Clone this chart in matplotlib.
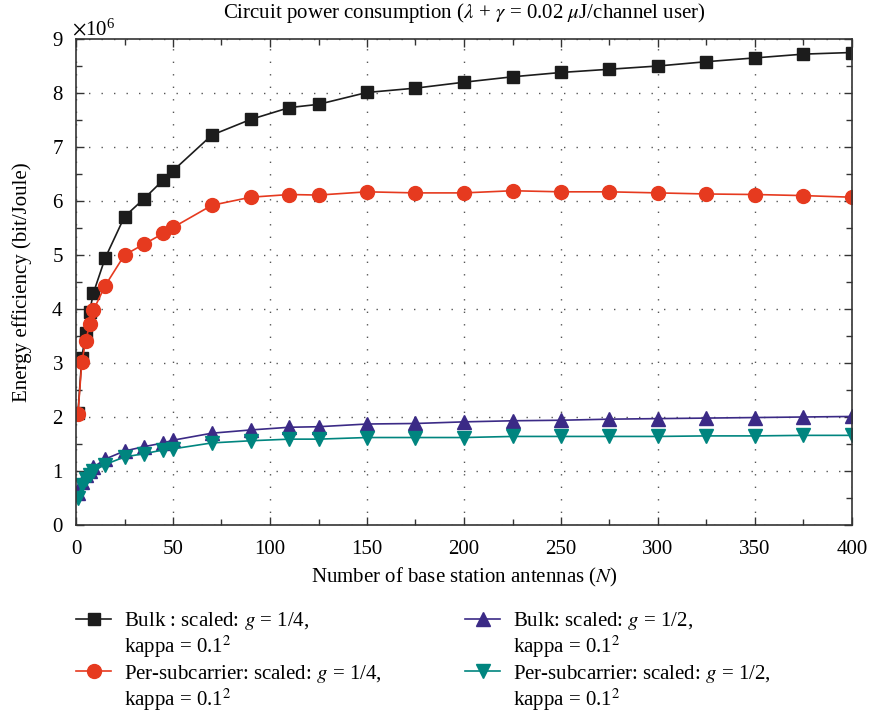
import matplotlib
matplotlib.use('Agg')
import matplotlib.pyplot as plt
from matplotlib.lines import Line2D
from matplotlib.ticker import ScalarFormatter, MultipleLocator
import numpy as np

plt.rcParams['font.family'] = 'serif'
plt.rcParams['font.serif'] = ['Liberation Serif', 'DejaVu Serif']
plt.rcParams['mathtext.fontset'] = 'stix'
plt.rcParams['font.size'] = 15

# number of antennas
N = [1, 3, 5, 7, 9, 15, 25, 35, 45, 50, 70, 90, 110, 125, 150, 175, 200,
     225, 250, 275, 300, 325, 350, 375, 400]

# energy efficiency in units of 1e6 bit/Joule
bulk_q = [2.07, 3.10, 3.55, 3.95, 4.30, 4.94, 5.71, 6.04, 6.39, 6.56, 7.22,
          7.51, 7.73, 7.79, 8.01, 8.09, 8.20, 8.30, 8.38, 8.44, 8.50, 8.58,
          8.65, 8.72, 8.75]
per_q = [2.05, 3.02, 3.40, 3.72, 3.98, 4.43, 5.00, 5.20, 5.40, 5.51, 5.92,
         6.07, 6.12, 6.11, 6.17, 6.15, 6.15, 6.19, 6.17, 6.17, 6.15, 6.13,
         6.12, 6.10, 6.07]
bulk_h = [0.60, 0.80, 0.92, 1.00, 1.07, 1.22, 1.37, 1.45, 1.52, 1.57, 1.70,
          1.76, 1.81, 1.82, 1.87, 1.88, 1.91, 1.93, 1.94, 1.96, 1.97, 1.98,
          1.99, 2.00, 2.01]
per_h = [0.50, 0.75, 0.85, 0.93, 1.00, 1.12, 1.26, 1.32, 1.39, 1.41, 1.52,
         1.56, 1.59, 1.59, 1.62, 1.62, 1.62, 1.64, 1.64, 1.64, 1.64, 1.65,
         1.65, 1.66, 1.66]

labels = ['Bulk : scaled: $g$ = 1/4,',
          'Per-subcarrier: scaled: $g$ = 1/4,',
          'Bulk: scaled: $g$ = 1/2,',
          'Per-subcarrier: scaled: $g$ = 1/2,']
second_line = 'kappa = 0.1$^2$'

fig = plt.figure(figsize=(8.69, 7.16), dpi=100)
ax = fig.add_axes([76/869, 1-525/716, (852-76)/869, (525-39)/716])

scale = 1e6
series = [(bulk_q, 's', 8, '#1c1c1c'),
          (per_q, 'o', 10, '#e63a1f'),
          (bulk_h, '^', 10, '#3b2a86'),
          (per_h, 'v', 10, '#00857f')]
lines = []
for (vals, mk, ms, c), lab in zip(series, labels):
    ln, = ax.plot(N, np.array(vals)*scale, color=c, marker=mk, ms=ms,
                  mec=c, mfc=c, lw=1.2, label=lab)
    lines.append(ln)

ax.set_xlim(0, 400)
ax.set_ylim(0, 9e6)
ax.xaxis.set_major_locator(MultipleLocator(50))
ax.xaxis.set_minor_locator(MultipleLocator(25))
ax.yaxis.set_major_locator(MultipleLocator(1e6))
ax.yaxis.set_minor_locator(MultipleLocator(0.5e6))
fmt = ScalarFormatter(useMathText=True)
fmt.set_powerlimits((0, 0))
ax.yaxis.set_major_formatter(fmt)
ax.yaxis.get_offset_text().set_fontsize(15)
ax.yaxis.get_offset_text().set_x(-0.005)

ax.tick_params(which='both', direction='in', top=True, right=True,
               color='#333333', labelsize=15)
ax.tick_params(which='major', length=6, width=1)
ax.tick_params(which='minor', length=4, width=1)
ax.tick_params(axis='x', which='major', pad=11)
ax.tick_params(axis='y', which='major', pad=9)
for s in ax.spines.values():
    s.set_color('#333333')
    s.set_linewidth(1.2)
ax.grid(True, which='major', color='#555555', linestyle=(0, (1, 8)), lw=1)

ax.set_xlabel('Number of base station antennas ($N$)', fontsize=15, labelpad=5)
ax.set_ylabel('Energy efficiency (bit/Joule)', fontsize=15, labelpad=14)
ax.set_title('Circuit power consumption ($\\lambda$ + $\\gamma$ = 0.02 $\\mu$J/channel user)',
             fontsize=15, pad=15)

# legend: each entry followed by a blank-handle entry for its second line
blank = Line2D([], [], linestyle='none', marker='none')
handles = []
leg_labels = []
for ln, lab in zip(lines, labels):
    handles += [ln, blank]
    leg_labels += [lab, second_line]
fig.legend(handles, leg_labels, loc='upper left',
           bbox_to_anchor=(76/869, 1-610/716), ncol=2, frameon=False,
           fontsize=15, borderpad=0, borderaxespad=0, handlelength=1.7,
           handletextpad=0.6, labelspacing=0.1, columnspacing=4.0)

fig.savefig('out.png', dpi=100)
